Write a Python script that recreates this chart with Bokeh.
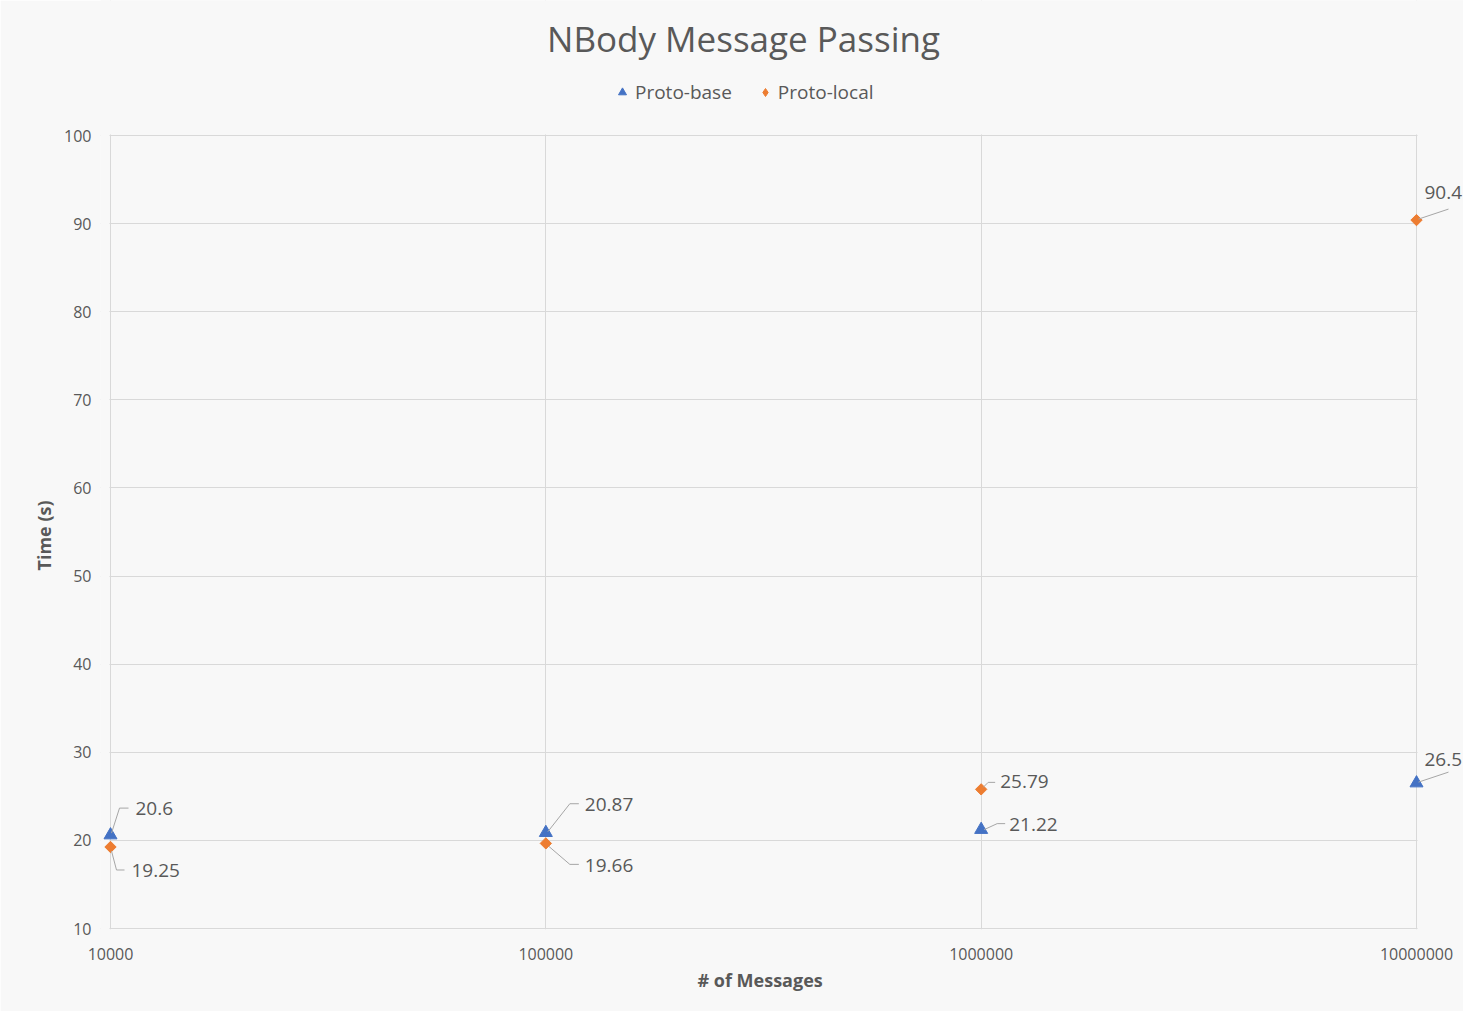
import numpy as np
from bokeh.plotting import figure
from bokeh.models import (ColumnDataSource, LabelSet, Label, Arrow, Legend, LegendItem,
                          FixedTicker, Range1d, BoxAnnotation, Title)
from bokeh.core.properties import value
from bokeh.embed import file_html
from bokeh.resources import INLINE

# ---- data ----
messages = [10000, 100000, 1000000, 10000000]
proto_base = [20.6, 20.87, 21.22, 26.5]
proto_local = [19.25, 19.66, 25.79, 90.4]
x_tick_values = [10000, 100000, 1000000, 10000000]
x_tick_labels = ["10000", "100000", "1000000", "10000000"]
y_tick_values = [10, 20, 30, 40, 50, 60, 70, 80, 90, 100]

# ---- label placement (screen px offsets relative to each point) ----
base_label_dx = [25, 39, 28, 8]
base_label_dy = [-27, -28, -5, -24]
local_label_dx = [21, 39, 19, 8]
local_label_dy = [24, 22, -8, -28]
base_leaders = [[(1, -2), (9, -27), (18, -27)],
                [(2, -1), (24, -29), (33, -29)],
                [(3, 0), (16, -6), (24, -6)],
                [(2, -1), (32, -11)]]
local_leaders = [[(1, 4), (6, 23), (14, 23)],
                 [(3, 3), (24, 21), (33, 21)],
                 [(2, -2), (7, -7), (14, -7)],
                 [(2, -1), (32, -11)]]

GRAY = "#595959"
GRID = "#d9d9d9"
BLUE = "#4472C4"
ORANGE = "#ED7D31"
FONT = "Open Sans"
BG = "#f8f8f8"

W, H = 1463, 1011
ML, MB = 100, 82
AREA_LEFT, AREA_RIGHT, AREA_TOP, AREA_BOTTOM = 110, 1416, 135, 928   # plotting-area edges (px)
frame_w = W - ML
frame_h = H - MB
x0, x1 = 1e4, 1e7
y0, y1 = 10, 100
px_per_decade = (AREA_RIGHT - AREA_LEFT) / (np.log10(x1) - np.log10(x0))
px_per_unit = (AREA_BOTTOM - AREA_TOP) / (y1 - y0)
x_start = 10 ** (np.log10(x0) - (AREA_LEFT - ML) / px_per_decade)
x_end = 10 ** (np.log10(x0) + (W - AREA_LEFT) / px_per_decade)
y_start = y0 - (frame_h - AREA_BOTTOM) / px_per_unit
y_end = y1 + AREA_TOP / px_per_unit


def to_data(x, y, dx, dy):
    return x * 10 ** (dx / px_per_decade), y - dy / px_per_unit


p = figure(width=W, height=H, x_axis_type="log",
           x_range=Range1d(x_start, x_end), y_range=Range1d(y_start, y_end),
           output_backend="svg", toolbar_location=None,
           min_border_left=ML, min_border_right=0,
           min_border_top=0, min_border_bottom=MB)

p.background_fill_color = BG
p.border_fill_color = BG
p.outline_line_color = None

p.xaxis.ticker = FixedTicker(ticks=x_tick_values)
p.xaxis.major_label_overrides = {v: l for v, l in zip(x_tick_values, x_tick_labels)}
p.yaxis.ticker = FixedTicker(ticks=y_tick_values)
p.xgrid.ticker = FixedTicker(ticks=x_tick_values)
p.ygrid.ticker = FixedTicker(ticks=y_tick_values)

for ax in (p.xaxis[0], p.yaxis[0]):
    ax.axis_line_color = None
    ax.major_tick_line_color = None
    ax.minor_tick_line_color = None
    ax.major_label_text_font = FONT
    ax.major_label_text_font_size = "16px"
    ax.major_label_text_color = GRAY

p.xaxis.major_label_standoff = 12
p.yaxis.major_label_standoff = 3

xlab = Title(text="# of Messages", align="left", offset=697 - ML,
             text_font=FONT, text_font_size="18px", text_font_style="bold",
             text_color=GRAY, standoff=6)
p.add_layout(xlab, "below")
ylab = Title(text="Time (s)", align="left", offset=359,
             text_font=FONT, text_font_size="18px", text_font_style="bold",
             text_color=GRAY, standoff=11)
p.add_layout(ylab, "left")

p.xgrid.grid_line_color = GRID
p.ygrid.grid_line_color = GRID

# cover the grid outside the plotting area, then draw the plot-area border
p.add_layout(BoxAnnotation(left=x1 * 10 ** (1 / px_per_decade), fill_color=BG,
                           fill_alpha=1, line_color=None, level="underlay"))
p.add_layout(BoxAnnotation(right=x0 / 10 ** (1 / px_per_decade), fill_color=BG,
                           fill_alpha=1, line_color=None, level="underlay"))
p.add_layout(BoxAnnotation(bottom=y1 + 1 / px_per_unit, fill_color=BG,
                           fill_alpha=1, line_color=None, level="underlay"))
p.add_layout(BoxAnnotation(left=x0, right=x1, bottom=y0, top=y1, fill_alpha=0,
                           line_color=GRID, line_width=1, level="underlay"))

# title
p.add_layout(Label(x=743 - ML, y=frame_h - 38, x_units="screen", y_units="screen",
                   text="NBody Message Passing", text_font=FONT,
                   text_font_size="35px", text_color=GRAY,
                   text_align="center", text_baseline="middle"))

src_base = ColumnDataSource(dict(x=messages, y=proto_base))
src_local = ColumnDataSource(dict(x=messages, y=proto_local))

# leader lines
xs0, ys0, xs1, ys1 = [], [], [], []
for xv, yv, leads in list(zip(messages, proto_base, base_leaders)) + list(zip(messages, proto_local, local_leaders)):
    pts = [to_data(xv, yv, dx, dy) for dx, dy in leads]
    for a, b in zip(pts[:-1], pts[1:]):
        xs0.append(a[0]); ys0.append(a[1]); xs1.append(b[0]); ys1.append(b[1])
lead_src = ColumnDataSource(dict(x0=xs0, y0=ys0, x1=xs1, y1=ys1))
p.add_layout(Arrow(end=None, source=lead_src, x_start="x0", y_start="y0",
                   x_end="x1", y_end="y1", line_color="#a6a6a6", line_width=1))

r_local = p.scatter("x", "y", source=src_local, marker="square", angle=np.pi / 4,
                    size=8, fill_color=ORANGE, line_color=ORANGE)
r_base = p.scatter("x", "y", source=src_base, marker="triangle", size=13,
                   fill_color=BLUE, line_color=BLUE)
# legend swatch for the diamond series (the legend does not rotate markers)
r_local_key = p.scatter(x=[np.nan], y=[np.nan], marker="diamond", size=8,
                        fill_color=ORANGE, line_color=ORANGE)


def label_source(xv, yv, dxs, dys):
    lx, ly, txt = [], [], []
    for x, y, dx, dy in zip(xv, yv, dxs, dys):
        a, b = to_data(x, y, dx, dy)
        lx.append(a); ly.append(b); txt.append(f"{y:g}")
    return ColumnDataSource(dict(x=lx, y=ly, t=txt))


for src in (label_source(messages, proto_base, base_label_dx, base_label_dy),
            label_source(messages, proto_local, local_label_dx, local_label_dy)):
    p.add_layout(LabelSet(x="x", y="y", text="t", source=src,
                          text_font=value(FONT), text_font_size="19px",
                          text_color=GRAY, text_align="left",
                          text_baseline="middle"))

legend = Legend(items=[LegendItem(label="Proto-base", renderers=[r_base]),
                       LegendItem(label="Proto-local", renderers=[r_local_key])],
                orientation="horizontal", location=(612 - ML, frame_h - 107))
legend.background_fill_alpha = 0
legend.border_line_alpha = 0
legend.padding = 0
legend.margin = 0
legend.spacing = 23
legend.label_standoff = 3
legend.glyph_width = 20
legend.glyph_height = 20
legend.label_height = 30
legend.label_text_font = FONT
legend.label_text_font_size = "19px"
legend.label_text_color = GRAY
p.add_layout(legend, "center")

open("out.html", "w").write(file_html(p, INLINE))
